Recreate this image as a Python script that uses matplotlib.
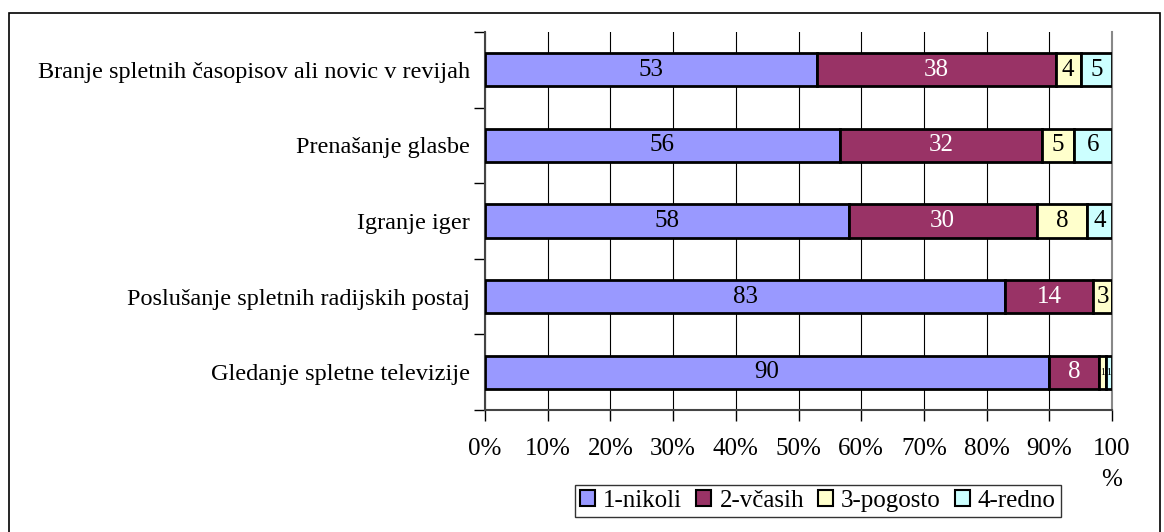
import matplotlib
matplotlib.use("Agg")
import matplotlib.pyplot as plt
from matplotlib.patches import Rectangle
import numpy as np

plt.rcParams['font.family'] = ['Liberation Serif', 'DejaVu Serif']

categories = [
    "Branje spletnih časopisov ali novic v revijah",
    "Prenašanje glasbe",
    "Igranje iger",
    "Poslušanje spletnih radijskih postaj",
    "Gledanje spletne televizije",
]
series_names = ["1-nikoli", "2-včasih", "3-pogosto", "4-redno"]
nikoli = [53, 56, 58, 83, 90]
vcasih = [38, 32, 30, 14, 8]
pogosto = [4, 5, 8, 3, 1]
redno = [5, 6, 4, 0, 1]
xtick_labels = ["0%", "10%", "20%", "30%", "40%", "50%", "60%", "70%", "80%", "90%", "100\n%"]

colors = ["#9999FF", "#993366", "#FFFFCC", "#CCFFFF"]
text_colors = ["black", "white", "black", "black"]

FS = 18
W, H = 1164, 532
fig = plt.figure(figsize=(W / 100, H / 100), dpi=100)
ax = fig.add_axes([485 / W, 1 - 410 / H, (1112 - 485) / W, (410 - 32) / H])

# outer frame
fig.patches.append(Rectangle((9 / W, -0.05), (1160 - 9) / W, 1.05 - 13 / H,
                             transform=fig.transFigure, fill=False,
                             edgecolor="black", linewidth=1.2))

series = [nikoli, vcasih, pogosto, redno]
n = len(categories)
y = np.arange(n)[::-1]
totals = np.array(nikoli) + np.array(vcasih) + np.array(pogosto) + np.array(redno)
left = np.zeros(n)
for vals, col, tc, name in zip(series, colors, text_colors, series_names):
    v = np.array(vals, dtype=float)
    frac = v / totals
    ax.barh(y, frac, left=left, height=0.44, color=col, edgecolor="black",
            linewidth=2, label=name, zorder=3)
    for i in range(n):
        if vals[i] > 0:
            fs = FS if vals[i] >= 2 else 7
            ax.text(left[i] + frac[i] / 2, y[i], str(vals[i]), ha="center", va="center",
                    color=tc, fontsize=fs, zorder=4)
    left += frac

ax.set_xlim(0, 1)
ax.set_ylim(-0.5, n - 0.5)
ax.set_xticks(np.linspace(0, 1, 11))
ax.set_xticklabels(xtick_labels, fontsize=FS, va="top", linespacing=1.55)
ax.set_yticks(y)
ax.set_yticklabels(categories, fontsize=17.5)
ax.tick_params(axis="y", length=0, pad=11)
ax.set_yticks(np.arange(-0.5, n, 1), minor=True)
ax.tick_params(axis="y", which="minor", length=8, width=1, direction="out")
ax.tick_params(axis="x", length=8, width=1, direction="out", pad=12)
ax.grid(axis="x", color="black", linewidth=0.8, zorder=0)
ax.spines["top"].set_visible(False)
ax.spines["right"].set_color("#888888")
ax.spines["right"].set_linewidth(1.5)
ax.spines["left"].set_linewidth(1.5)
ax.spines["left"].set_color("#444444")
ax.spines["bottom"].set_linewidth(1.5)
ax.spines["bottom"].set_color("#444444")

leg = fig.legend(loc="center", bbox_to_anchor=(818 / W, 1 - 501 / H), ncol=4,
                 fontsize=FS, frameon=True, fancybox=False, edgecolor="black",
                 handlelength=0.6, handleheight=0.6, handletextpad=0.32,
                 columnspacing=0.56, borderpad=0.2, borderaxespad=0)
leg.get_frame().set_linewidth(1)
for h in leg.legend_handles:
    h.set_linewidth(1.5)

fig.savefig("out.png", dpi=100)
